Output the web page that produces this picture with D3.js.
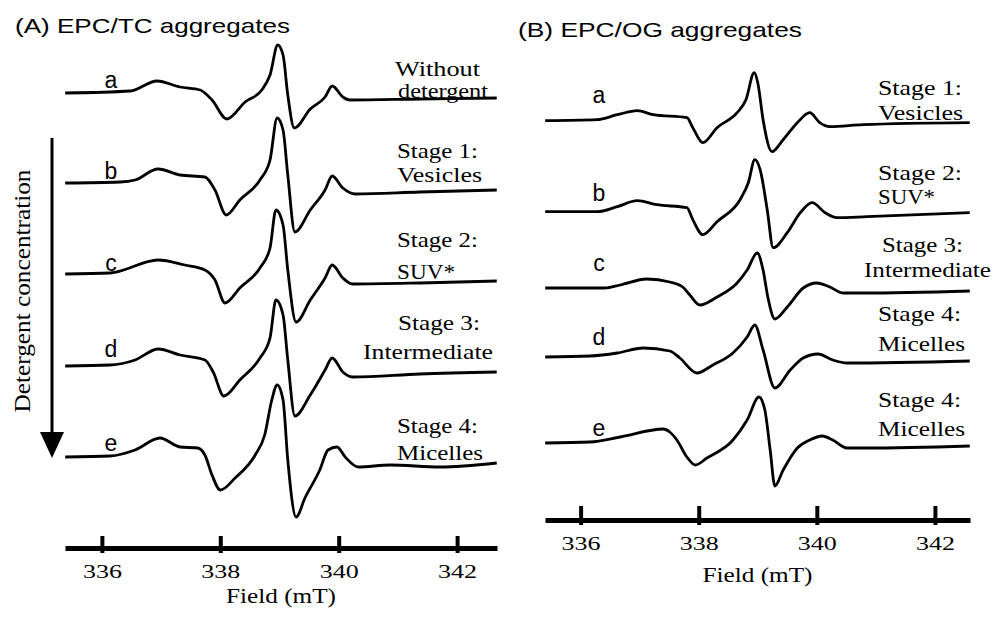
<!DOCTYPE html>
<html lang="en">
<head>
<meta charset="UTF-8">
<title>EPR spectra of EPC/TC and EPC/OG aggregates</title>
<script src="https://cdn.jsdelivr.net/npm/d3@7"></script>
<style>
  body { margin: 0; background: #fff; }
</style>
</head>
<body>
<svg id="chart" width="994" height="620"></svg>
<script>
// ---- data ----
var fieldTicks = [336, 338, 340, 342];
var letters = ["a", "b", "c", "d", "e"];
var stagesA = [["Without", "detergent"], ["Stage 1:", "Vesicles"], ["Stage 2:", "SUV*"],
               ["Stage 3:", "Intermediate"], ["Stage 4:", "Micelles"]];
var stagesB = [["Stage 1:", "Vesicles"], ["Stage 2:", "SUV*"], ["Stage 3:", "Intermediate"],
               ["Stage 4:", "Micelles"], ["Stage 4:", "Micelles"]];

// vertical offset of each trace (a.u.)
var offsetsA = [45.5, 36.5, 27.4, 18.2, 9.1];
var offsetsB = [39.93, 30.83, 23.2, 16.3, 7.7];

// spectra: [field (mT), amplitude (a.u.)]
var tcA = [[335.38,0],[336.48,0.2],[336.93,1.2],[337.32,0.6],[337.66,0.3],[337.86,-0.7],[338.11,-2.6],
  [338.42,-0.9],[338.70,0.3],[338.84,1.8],[338.97,4.8],[339.06,3.8],[339.14,-0.2],[339.25,-3.5],
  [339.52,-1.6],[339.77,-0.4],[339.89,0.7],[340.07,-0.4],[340.19,-0.7],[341.37,-0.6],[342.67,-0.5]];
var tcB = [[335.38,0],[336.31,0.1],[336.56,0.3],[336.95,1.4],[337.32,0.8],[337.74,0.6],[337.91,-0.7],
  [338.10,-3.2],[338.33,-1.7],[338.67,0.3],[338.84,2.3],[338.96,6.5],[339.06,5.3],[339.14,0.8],
  [339.26,-4.9],[339.52,-2.7],[339.77,-0.7],[339.89,0.7],[340.07,-0.5],[340.28,-1.1],[341.37,-0.9],[342.67,-0.7]];
var tcC = [[335.38,0],[336.14,0.1],[336.95,1.4],[337.40,0.9],[337.74,0.4],[337.91,-0.6],[338.08,-2.9],
  [338.33,-1.4],[338.67,0.6],[338.84,2.6],[338.94,6.4],[339.06,4.9],[339.14,0.4],[339.28,-4.8],
  [339.52,-2.6],[339.77,-0.4],[339.89,0.9],[340.07,-0.4],[340.23,-1.0],[341.37,-0.9],[342.67,-0.7]];
var tcD = [[335.38,0],[336.14,0.1],[336.56,0.6],[336.95,1.7],[337.32,1.1],[337.74,0.6],[337.88,-0.6],
  [338.06,-3.0],[338.33,-1.4],[338.67,0.8],[338.84,2.8],[338.94,6.6],[339.06,5.1],[339.14,0.6],
  [339.26,-5.0],[339.52,-2.9],[339.77,-0.4],[339.89,0.8],[340.07,-0.6],[340.23,-1.1],[341.37,-0.8],[342.67,-0.6]];
var tcE = [[335.38,0],[336.14,0.1],[336.56,0.7],[336.98,1.9],[337.32,1.0],[337.62,0.9],[337.74,0.2],
  [337.86,-1.8],[338.00,-3.3],[338.25,-2.1],[338.59,0.2],[338.75,2.2],[338.87,5.7],[338.96,7.2],
  [339.06,5.7],[339.14,-0.3],[339.28,-6.0],[339.43,-4.1],[339.68,-1.3],[339.82,0.7],[339.97,1.0],
  [340.11,0],[340.33,-1.0],[340.87,-0.8],[341.71,-1.0],[342.67,-0.6]];

var ogA = [[335.40,0],[336.28,0.1],[336.62,0.6],[336.96,1.0],[337.23,0.6],[337.80,0.3],[337.90,-0.7],
  [338.07,-2.2],[338.31,-0.7],[338.65,0.8],[338.80,2.1],[338.94,4.8],[339.00,3.8],[339.09,0.1],
  [339.24,-3.1],[339.43,-1.9],[339.67,-0.2],[339.88,0.8],[340.05,-0.2],[340.22,-0.6],[340.78,-0.4],[342.59,-0.2]];
var ogB = [[335.40,0],[336.28,0],[336.62,0.5],[336.96,1.1],[337.29,0.7],[337.80,0.4],[337.90,-0.8],
  [338.07,-2.3],[338.31,-1.0],[338.70,1.2],[338.84,2.9],[338.95,5.2],[339.04,4.2],[339.16,0.2],
  [339.26,-3.6],[339.50,-2.1],[339.72,-0.1],[339.92,0.9],[340.14,-0.1],[340.34,-0.6],[340.85,-0.5],[342.59,-0.1]];
var ogC = [[335.40,0],[336.41,0],[336.67,0.3],[337.12,0.9],[337.51,0.6],[337.73,0.1],[337.85,-0.7],
  [338.02,-1.7],[338.31,-0.9],[338.65,0.5],[338.82,1.8],[338.99,3.5],[339.09,1.8],[339.17,-0.9],
  [339.29,-3.1],[339.50,-1.9],[339.77,0],[340.00,0.5],[340.22,0.1],[340.44,-0.5],[340.78,-0.5],[342.59,-0.3]];
var ogD = [[335.40,0],[336.16,0.1],[336.62,0.4],[337.06,0.9],[337.51,0.6],[337.68,-0.1],[337.97,-1.6],
  [338.24,-0.8],[338.58,0.4],[338.82,2.0],[338.95,3.2],[339.09,0.7],[339.29,-3.1],[339.55,-1.3],
  [339.77,-0.1],[340.02,0.3],[340.27,-0.3],[340.51,-0.6],[342.59,-0.4]];
var ogE = [[335.40,0],[336.16,0.1],[336.67,0.6],[337.40,1.4],[337.51,1.1],[337.63,0.3],[337.80,-1.4],
  [337.94,-2.2],[338.14,-1.5],[338.58,0.3],[338.82,2.3],[339.02,4.6],[339.12,3.3],[339.21,-0.7],
  [339.29,-4.3],[339.43,-2.7],[339.67,-0.5],[339.88,0.3],[340.09,0.7],[340.27,0.3],[340.51,-0.5],
  [340.85,-0.5],[342.59,-0.3]];

// ---- layout ----
var SERIF = "'Liberation Serif', 'Times New Roman', Times, serif";
var SANS = "'Liberation Sans', Arial, Helvetica, sans-serif";
var svg = d3.select("#chart");

var panels = [
  { title: "(A)  EPC/TC aggregates", titleX: 15, titleY: 33, titleW: 275,
    x: d3.scaleLinear().domain([335.377, 342.674]).range([65, 497]),
    y: d3.scaleLinear().domain([0, 50]).range([548, 48]),
    spectra: [tcA, tcB, tcC, tcD, tcE], offsets: offsetsA, stages: stagesA,
    letterX: 111, letterY: [88, 179, 271, 357, 451],
    // [x, baseline, width] of each label line
    stagePos: [[[395, 76, 85], [398, 98, 90]], [[397, 158, 81], [397, 182, 85]],
               [[397, 247, 81], [397, 279, 58]], [[398, 330, 82], [363, 359, 130]],
               [[397, 433, 81], [397, 460, 86]]],
    tickUp: 12, fieldY: 603 },
  { title: "(B)  EPC/OG aggregates", titleX: 518, titleY: 37, titleW: 284,
    x: d3.scaleLinear().domain([335.397, 342.594]).range([545, 970]),
    y: d3.scaleLinear().domain([0, 50]).range([520, 20]),
    spectra: [ogA, ogB, ogC, ogD, ogE], offsets: offsetsB, stages: stagesB,
    letterX: 599, letterY: [103, 201, 271, 345, 436],
    stagePos: [[[878, 95, 84], [878, 120, 85]], [[878, 180, 84], [878, 204, 57]],
               [[882, 252, 81], [864, 277, 127]], [[878, 321, 83], [878, 351, 87]],
               [[878, 407, 83], [878, 436, 87]]],
    tickUp: 14, fieldY: 582 }
];

panels.forEach(function(p) {
  var g = svg.append("g");

  g.append("text")
    .attr("font-family", SANS)
    .attr("x", p.titleX).attr("y", p.titleY)
    .attr("font-size", 21)
    .attr("textLength", p.titleW).attr("lengthAdjust", "spacingAndGlyphs")
    .text(p.title);

  // traces
  p.spectra.forEach(function(s, i) {
    var line = d3.line()
      .x(function(d) { return p.x(d[0]); })
      .y(function(d) { return p.y(p.offsets[i] + d[1]); })
      .curve(d3.curveMonotoneX);
    g.append("path").datum(s)
      .attr("d", line)
      .attr("fill", "none")
      .attr("stroke", "#000")
      .attr("stroke-width", 2.8)
      .attr("stroke-linejoin", "round");

    g.append("text")
      .attr("font-family", SANS)
      .attr("x", p.letterX).attr("y", p.letterY[i])
      .attr("text-anchor", "middle")
      .attr("font-size", 23)
      .text(letters[i]);

    p.stages[i].forEach(function(t, j) {
      var pos = p.stagePos[i][j];
      g.append("text")
        .attr("font-family", SERIF)
        .attr("x", pos[0]).attr("y", pos[1])
        .attr("font-size", j == 0 && i == 0 && p.stagePos[0][0][1] < 80 ? 20 : 21)
        .attr("textLength", pos[2]).attr("lengthAdjust", "spacingAndGlyphs")
        .text(t);
    });
  });

  // field axis
  var axis = d3.axisBottom(p.x).tickValues(fieldTicks).tickSizeOuter(0)
    .tickFormat(d3.format("d"));
  var ag = g.append("g")
    .attr("transform", "translate(0," + p.y(0) + ")")
    .call(axis)
    .attr("font-family", SERIF)
    .attr("font-size", 18);
  ag.select(".domain").attr("stroke", "#000").attr("stroke-width", 5);
  ag.selectAll(".tick line")
    .attr("y1", -p.tickUp).attr("y2", 5)
    .attr("stroke", "#000").attr("stroke-width", 4);
  ag.selectAll(".tick text")
    .attr("fill", "#000")
    .attr("y", 30).attr("dy", null)
    .attr("textLength", 39).attr("lengthAdjust", "spacingAndGlyphs");

  var mid = (p.x.range()[0] + p.x.range()[1]) / 2;
  g.append("text")
    .attr("font-family", SERIF)
    .attr("x", mid).attr("y", p.fieldY)
    .attr("text-anchor", "middle")
    .attr("font-size", 20)
    .attr("textLength", 110).attr("lengthAdjust", "spacingAndGlyphs")
    .text("Field (mT)");
});

// detergent concentration arrow
svg.append("line")
  .attr("x1", 52).attr("x2", 52).attr("y1", 138).attr("y2", 436)
  .attr("stroke", "#000").attr("stroke-width", 3);
svg.append("path")
  .attr("d", "M40,432L64,432L52,458Z")
  .attr("fill", "#000");
svg.append("text")
  .attr("font-family", SERIF)
  .attr("transform", "translate(30,291) rotate(-90)")
  .attr("text-anchor", "middle")
  .attr("font-size", 23)
  .attr("textLength", 243).attr("lengthAdjust", "spacingAndGlyphs")
  .text("Detergent concentration");
</script>
</body>
</html>
